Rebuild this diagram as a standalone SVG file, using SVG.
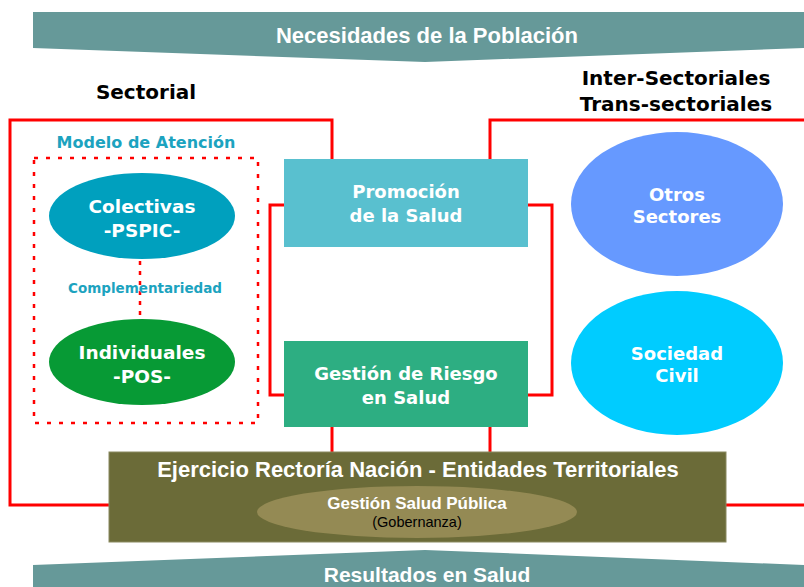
<svg xmlns="http://www.w3.org/2000/svg" width="804" height="587" viewBox="0 0 804 587">
<defs>
<style>
.t{font-family:"Liberation Sans",Arial,sans-serif;font-weight:bold;text-anchor:middle}
.g{font-family:"DejaVu Sans","Liberation Sans",sans-serif;font-weight:bold;text-anchor:middle}
.w{fill:#ffffff}
.k{fill:#000000}
.red{fill:none;stroke:#ff0000;stroke-width:3}
</style>
</defs>
<rect width="804" height="587" fill="#ffffff"/>
<g id="connectors">
<path class="red" d="M332,160 V120 H10 V505 H110"/>
<path class="red" d="M490,160 V120 H804"/>
<path class="red" d="M726,505 H804"/>
<path class="red" d="M332,427 V453"/>
<path class="red" d="M490,427 V453"/>
<path class="red" d="M285,205 H270 V395 H285"/>
<path class="red" d="M528,205 H552 V395 H528"/>
<path d="M140,261 V320" fill="none" stroke="#ff0000" stroke-width="2.5" stroke-dasharray="4 6"/>
</g>
<g id="banner-top">
<path d="M33,12 H804 V48 L425,62 L33,48 Z" fill="#669999"/>
<text class="t w" x="427" y="43" font-size="22">Necesidades de la Población</text>
</g>
<g id="label-sectorial">
<text class="g k" x="146" y="99" font-size="20">Sectorial</text>
</g>
<g id="label-inter">
<text class="g k" x="676" y="85" font-size="20">Inter-Sectoriales</text>
<text class="g k" x="676" y="111" font-size="20">Trans-sectoriales</text>
</g>
<g id="modelo">
<rect x="34" y="158" width="224" height="265" fill="none" stroke="#ff0000" stroke-width="2.5" stroke-dasharray="4 8"/>
<text class="g" x="146" y="148" font-size="16" fill="#1CA3BF">Modelo de Atención</text>
<text class="g" x="145" y="293" font-size="13.5" fill="#1CA3BF">Complementariedad</text>
</g>
<g id="colectivas">
<ellipse cx="142" cy="216" rx="93" ry="43" fill="#00A0BE"/>
<text class="g w" x="142" y="213" font-size="18.5">Colectivas</text>
<text class="g w" x="142" y="237" font-size="18.5">-PSPIC-</text>
</g>
<g id="individuales">
<ellipse cx="142" cy="362" rx="93" ry="43" fill="#079A35"/>
<text class="g w" x="142" y="359" font-size="18.5">Individuales</text>
<text class="g w" x="142" y="383" font-size="18.5">-POS-</text>
</g>
<g id="promocion">
<rect x="284" y="159" width="244" height="88" fill="#59C0CF"/>
<text class="g w" x="406" y="198" font-size="18">Promoción</text>
<text class="g w" x="406" y="222" font-size="18">de la Salud</text>
</g>
<g id="gestion-riesgo">
<rect x="284" y="341" width="244" height="86" fill="#2DAE82"/>
<text class="g w" x="406" y="380" font-size="18">Gestión de Riesgo</text>
<text class="g w" x="406" y="404" font-size="18">en Salud</text>
</g>
<g id="otros">
<ellipse cx="677" cy="204" rx="106" ry="72" fill="#6699FF"/>
<text class="g w" x="677" y="201" font-size="18">Otros</text>
<text class="g w" x="677" y="223" font-size="18">Sectores</text>
</g>
<g id="sociedad">
<ellipse cx="677" cy="363" rx="106" ry="72" fill="#00CCFF"/>
<text class="g w" x="677" y="360" font-size="18">Sociedad</text>
<text class="g w" x="677" y="382" font-size="18">Civil</text>
</g>
<g id="ejercicio">
<rect x="109" y="452" width="617" height="90" fill="#6B6B38" stroke="#8a8a60" stroke-width="1"/>
<text class="t w" x="418" y="477" font-size="22">Ejercicio Rectoría Nación - Entidades Territoriales</text>
<ellipse cx="417" cy="512" rx="160" ry="26" fill="#948A54"/>
<text class="t w" x="417" y="509" font-size="17">Gestión Salud Pública</text>
<text x="417" y="527" font-size="14.5" text-anchor="middle" font-family="Liberation Sans,Arial,sans-serif" fill="#000000">(Gobernanza)</text>
</g>
<g id="banner-bottom">
<path d="M33,565 L425,550 L804,565 V587 H33 Z" fill="#669999"/>
<text class="t w" x="427" y="582" font-size="21">Resultados en Salud</text>
</g>
</svg>
